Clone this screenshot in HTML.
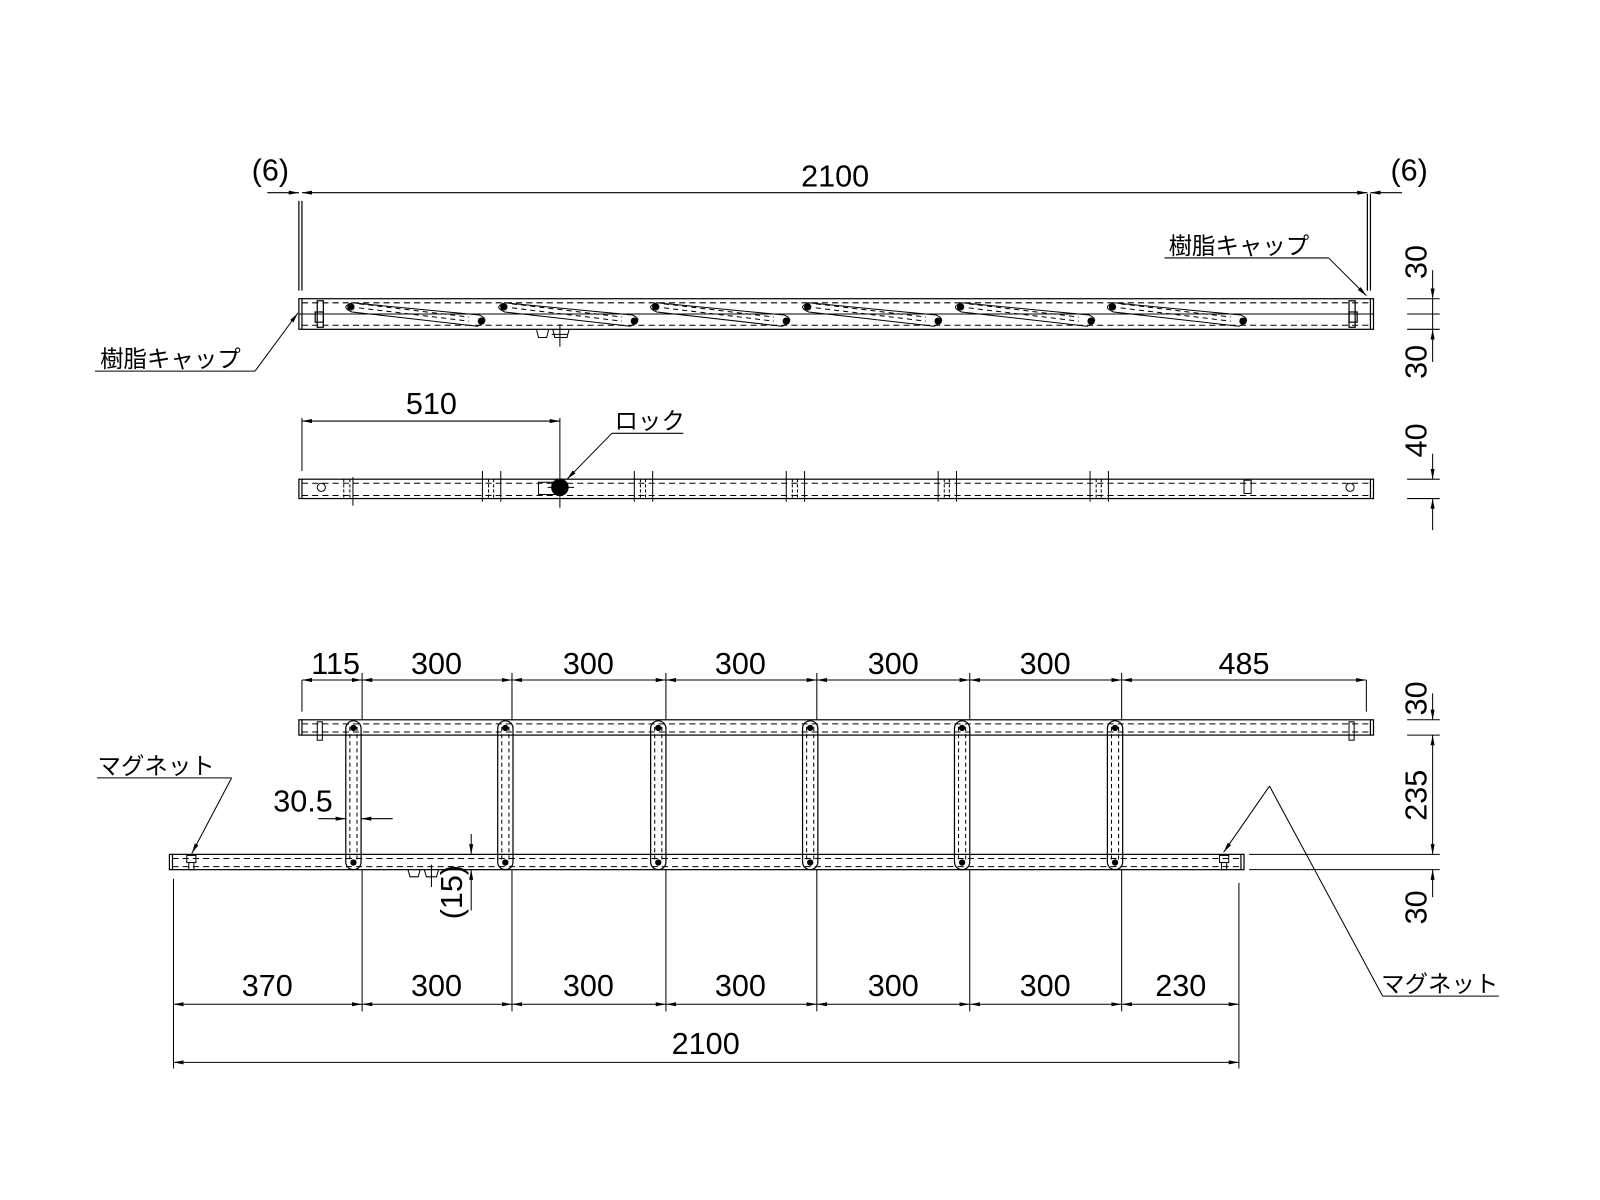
<!DOCTYPE html>
<html><head><meta charset="utf-8"><style>html,body{margin:0;padding:0;background:#fff}svg{display:block}
text{font-family:"Liberation Sans","Noto Sans CJK JP",sans-serif;fill:#000}</style></head><body>
<svg width="1600" height="1200" viewBox="0 0 1569 1177" xmlns="http://www.w3.org/2000/svg">
<defs>
<marker id="a" viewBox="0 0 10 4" refX="10" refY="2" markerWidth="10" markerHeight="4" orient="auto-start-reverse" markerUnits="userSpaceOnUse"><path d="M0,0 L10,2 L0,4Z" fill="#000"/></marker>
</defs>
<g stroke="#000" fill="none" stroke-width="1.2">
<rect x="293" y="293" width="1054" height="30"/>
<line x1="293" y1="308" x2="1347" y2="308" stroke-width="1"/>
<line x1="296" y1="297" x2="1344" y2="297" stroke-dasharray="6,4" stroke-width="1"/>
<line x1="296" y1="319" x2="1344" y2="319" stroke-dasharray="6,4" stroke-width="1"/>
<line x1="296" y1="293" x2="296" y2="323"/>
<line x1="1344" y1="293" x2="1344" y2="323"/>
<rect x="311" y="295" width="6" height="26"/><rect x="309" y="306" width="8" height="10"/>
<rect x="1323" y="295" width="6" height="26"/><rect x="1323" y="306" width="8" height="10"/>
<g id="sl">
<path d="M345,297 Q333,301 345,306 L468,320 Q482,314 470,309 Z" stroke-width="1"/>
<line x1="352" y1="302" x2="460" y2="315" stroke-dasharray="5,4" stroke-width="1"/>
<line x1="352" y1="298" x2="460" y2="311" stroke-dasharray="5,4" stroke-width="1"/>
<circle cx="344" cy="301" r="3" fill="#000"/><circle cx="472" cy="315" r="3" fill="#000"/>
</g>
<use href="#sl" x="150"/><use href="#sl" x="299"/><use href="#sl" x="448"/><use href="#sl" x="598"/><use href="#sl" x="747"/>
<path d="M526,323 L528,331 L536,331 L538,323 M542,323 L544,331 L556,331 L558,323 M549,318 L549,340 M541,328 L557,328" stroke-width="1"/>
<line x1="296" y1="197" x2="296" y2="285"/><line x1="293" y1="197" x2="293" y2="285"/>
<line x1="1344" y1="190" x2="1344" y2="285"/><line x1="1341" y1="190" x2="1341" y2="285"/>
<line x1="296" y1="189" x2="1341" y2="189" marker-start="url(#a)" marker-end="url(#a)" stroke-width="1"/>
<line x1="262" y1="189" x2="293" y2="189" marker-end="url(#a)" stroke-width="1"/>
<line x1="1375" y1="189" x2="1344" y2="189" marker-end="url(#a)" stroke-width="1"/>
<line x1="1380" y1="293" x2="1412" y2="293" stroke-width="1"/>
<line x1="1380" y1="308" x2="1412" y2="308" stroke-width="1"/>
<line x1="1380" y1="323" x2="1412" y2="323" stroke-width="1"/>
<line x1="1405" y1="265" x2="1405" y2="293" marker-end="url(#a)" stroke-width="1"/>
<line x1="1405" y1="293" x2="1405" y2="323" stroke-width="1"/>
<line x1="1405" y1="355" x2="1405" y2="323" marker-end="url(#a)" stroke-width="1"/>
<polyline points="1142,253 1303,253" stroke-width="1"/>
<line x1="1303" y1="253" x2="1340" y2="290" marker-end="url(#a)" stroke-width="1"/>
<polyline points="93,364 250,364" stroke-width="1"/>
<line x1="250" y1="364" x2="292" y2="307" marker-end="url(#a)" stroke-width="1"/>

<rect x="293" y="470" width="1054" height="19"/>
<line x1="296" y1="474" x2="1344" y2="474" stroke-dasharray="6,4" stroke-width="1"/>
<line x1="296" y1="486" x2="1344" y2="486" stroke-dasharray="6,4" stroke-width="1"/>
<line x1="296" y1="470" x2="296" y2="489"/><line x1="1344" y1="470" x2="1344" y2="489"/>
<circle cx="315" cy="478" r="4" stroke-width="1"/><circle cx="1324" cy="478" r="4" stroke-width="1"/>
<g stroke-width="1">
<line x1="346" y1="468" x2="346" y2="496"/><line x1="337" y1="470" x2="337" y2="489" stroke-dasharray="3,2"/><line x1="343" y1="470" x2="343" y2="489" stroke-dasharray="3,2"/>
<line x1="473" y1="462" x2="473" y2="492"/><line x1="491" y1="462" x2="491" y2="492"/><line x1="479" y1="470" x2="479" y2="489" stroke-dasharray="3,2"/><line x1="484" y1="470" x2="484" y2="489" stroke-dasharray="3,2"/>
<line x1="622" y1="462" x2="622" y2="492"/><line x1="640" y1="462" x2="640" y2="492"/><line x1="628" y1="470" x2="628" y2="489" stroke-dasharray="3,2"/><line x1="633" y1="470" x2="633" y2="489" stroke-dasharray="3,2"/>
<line x1="771" y1="462" x2="771" y2="492"/><line x1="789" y1="462" x2="789" y2="492"/><line x1="777" y1="470" x2="777" y2="489" stroke-dasharray="3,2"/><line x1="782" y1="470" x2="782" y2="489" stroke-dasharray="3,2"/>
<line x1="920" y1="462" x2="920" y2="492"/><line x1="938" y1="462" x2="938" y2="492"/><line x1="926" y1="470" x2="926" y2="489" stroke-dasharray="3,2"/><line x1="931" y1="470" x2="931" y2="489" stroke-dasharray="3,2"/>
<line x1="1069" y1="462" x2="1069" y2="492"/><line x1="1087" y1="462" x2="1087" y2="492"/><line x1="1075" y1="470" x2="1075" y2="489" stroke-dasharray="3,2"/><line x1="1080" y1="470" x2="1080" y2="489" stroke-dasharray="3,2"/>
<rect x="1220" y="471" width="7" height="13"/>
<rect x="528" y="473" width="20" height="12"/>
<line x1="537" y1="478" x2="563" y2="478"/>
</g>
<circle cx="549" cy="478" r="8" fill="#000"/>
<line x1="549" y1="410" x2="549" y2="498" stroke-width="1"/>
<line x1="296" y1="410" x2="296" y2="462" stroke-width="1"/>
<line x1="296" y1="413" x2="549" y2="413" marker-start="url(#a)" marker-end="url(#a)" stroke-width="1"/>
<polyline points="670,425 600,425" stroke-width="1"/>
<line x1="600" y1="425" x2="556" y2="470" marker-end="url(#a)" stroke-width="1"/>
<line x1="1380" y1="470" x2="1412" y2="470" stroke-width="1"/>
<line x1="1380" y1="489" x2="1412" y2="489" stroke-width="1"/>
<line x1="1405" y1="445" x2="1405" y2="470" marker-end="url(#a)" stroke-width="1"/>
<line x1="1405" y1="520" x2="1405" y2="489" marker-end="url(#a)" stroke-width="1"/>

<rect x="293" y="706" width="1054" height="15"/>
<line x1="296" y1="710" x2="1344" y2="710" stroke-dasharray="6,4" stroke-width="1"/>
<line x1="296" y1="718" x2="1344" y2="718" stroke-dasharray="6,4" stroke-width="1"/>
<line x1="296" y1="706" x2="296" y2="721"/><line x1="1344" y1="706" x2="1344" y2="721"/>
<rect x="311" y="708" width="5" height="18" stroke-width="1"/><rect x="1323" y="708" width="5" height="18" stroke-width="1"/>
<rect x="166" y="838" width="1054" height="15"/>
<line x1="169" y1="842" x2="1217" y2="842" stroke-dasharray="6,4" stroke-width="1"/>
<line x1="169" y1="850" x2="1217" y2="850" stroke-dasharray="6,4" stroke-width="1"/>
<line x1="169" y1="838" x2="169" y2="853"/><line x1="1217" y1="838" x2="1217" y2="853"/>
<rect x="183" y="839" width="9" height="7" stroke-width="1"/><rect x="185" y="846" width="5" height="7" stroke-width="1"/>
<rect x="1196" y="839" width="9" height="7" stroke-width="1"/><rect x="1198" y="846" width="5" height="7" stroke-width="1"/>
<path d="M400,853 L402,860 L410,860 L412,853 M416,853 L418,860 L428,860 L430,853 M423,848 L423,870" stroke-width="1"/>
<g id="rg">
<rect x="339" y="707" width="15" height="146" rx="7.5" stroke-width="1.2"/>
<line x1="343" y1="713" x2="343" y2="846" stroke-dasharray="4,3" stroke-width="1"/>
<line x1="350" y1="713" x2="350" y2="846" stroke-dasharray="4,3" stroke-width="1"/>
<circle cx="346.5" cy="714" r="2.5" fill="#000"/><circle cx="346.5" cy="846" r="2.5" fill="#000"/>
</g>
<use href="#rg" x="149"/><use href="#rg" x="299"/><use href="#rg" x="448"/><use href="#rg" x="597"/><use href="#rg" x="747"/>
<g stroke-width="1">
<line x1="296" y1="667" x2="296" y2="698"/><line x1="355" y1="660" x2="355" y2="706"/>
<line x1="502" y1="660" x2="502" y2="706"/><line x1="653" y1="660" x2="653" y2="706"/>
<line x1="801" y1="660" x2="801" y2="706"/><line x1="951" y1="660" x2="951" y2="706"/>
<line x1="1100" y1="660" x2="1100" y2="706"/><line x1="1340" y1="667" x2="1340" y2="698"/>
<line x1="296" y1="667" x2="355" y2="667" marker-start="url(#a)" marker-end="url(#a)"/>
<line x1="355" y1="667" x2="502" y2="667" marker-start="url(#a)" marker-end="url(#a)"/>
<line x1="502" y1="667" x2="653" y2="667" marker-start="url(#a)" marker-end="url(#a)"/>
<line x1="653" y1="667" x2="801" y2="667" marker-start="url(#a)" marker-end="url(#a)"/>
<line x1="801" y1="667" x2="951" y2="667" marker-start="url(#a)" marker-end="url(#a)"/>
<line x1="951" y1="667" x2="1100" y2="667" marker-start="url(#a)" marker-end="url(#a)"/>
<line x1="1100" y1="667" x2="1340" y2="667" marker-start="url(#a)" marker-end="url(#a)"/>
<line x1="170" y1="862" x2="170" y2="1048"/><line x1="355" y1="853" x2="355" y2="992"/>
<line x1="502" y1="853" x2="502" y2="992"/><line x1="653" y1="853" x2="653" y2="992"/>
<line x1="801" y1="853" x2="801" y2="992"/><line x1="951" y1="853" x2="951" y2="992"/>
<line x1="1100" y1="853" x2="1100" y2="992"/><line x1="1215" y1="866" x2="1215" y2="1048"/>
<line x1="170" y1="985" x2="355" y2="985" marker-start="url(#a)" marker-end="url(#a)"/>
<line x1="355" y1="985" x2="502" y2="985" marker-start="url(#a)" marker-end="url(#a)"/>
<line x1="502" y1="985" x2="653" y2="985" marker-start="url(#a)" marker-end="url(#a)"/>
<line x1="653" y1="985" x2="801" y2="985" marker-start="url(#a)" marker-end="url(#a)"/>
<line x1="801" y1="985" x2="951" y2="985" marker-start="url(#a)" marker-end="url(#a)"/>
<line x1="951" y1="985" x2="1100" y2="985" marker-start="url(#a)" marker-end="url(#a)"/>
<line x1="1100" y1="985" x2="1215" y2="985" marker-start="url(#a)" marker-end="url(#a)"/>
<line x1="170" y1="1042" x2="1215" y2="1042" marker-start="url(#a)" marker-end="url(#a)"/>
<line x1="1380" y1="706" x2="1412" y2="706"/><line x1="1380" y1="721" x2="1412" y2="721"/>
<line x1="1225" y1="838" x2="1412" y2="838"/><line x1="1225" y1="853" x2="1412" y2="853"/>
<line x1="1405" y1="680" x2="1405" y2="706" marker-end="url(#a)"/>
<line x1="1405" y1="721" x2="1405" y2="838" marker-start="url(#a)" marker-end="url(#a)"/>
<line x1="1405" y1="880" x2="1405" y2="853" marker-end="url(#a)"/>
<line x1="312" y1="803" x2="339" y2="803" marker-end="url(#a)"/>
<line x1="385" y1="803" x2="354" y2="803" marker-end="url(#a)"/>
<line x1="462" y1="818" x2="462" y2="838" marker-end="url(#a)"/>
<line x1="462" y1="893" x2="462" y2="853" marker-end="url(#a)"/>
<line x1="440" y1="853" x2="470" y2="853"/>
<line x1="95" y1="763" x2="227" y2="763"/>
<line x1="227" y1="763" x2="188" y2="837" marker-end="url(#a)"/>
<line x1="1245" y1="771" x2="1200" y2="836" marker-end="url(#a)"/>
<line x1="1245" y1="771" x2="1356" y2="977"/>
<line x1="1356" y1="977" x2="1470" y2="977"/>
</g>
</g>
<g font-size="30" text-anchor="middle">
<text x="265" y="177">(6)</text><text x="1382" y="177">(6)</text>
<text x="819" y="183">2100</text>
<text x="423" y="406">510</text>
<text x="329" y="661">115</text><text x="428" y="661">300</text><text x="577" y="661">300</text><text x="726" y="661">300</text><text x="876" y="661">300</text><text x="1025" y="661">300</text><text x="1220" y="661">485</text>
<text x="262" y="977">370</text><text x="428" y="977">300</text><text x="577" y="977">300</text><text x="726" y="977">300</text><text x="876" y="977">300</text><text x="1025" y="977">300</text><text x="1158" y="977">230</text>
<text x="692" y="1034">2100</text>
<text x="297" y="796">30.5</text>
<text transform="translate(1399,257) rotate(-90)">30</text>
<text transform="translate(1399,355) rotate(-90)">30</text>
<text transform="translate(1399,432) rotate(-90)">40</text>
<text transform="translate(1399,685) rotate(-90)">30</text>
<text transform="translate(1399,780) rotate(-90)">235</text>
<text transform="translate(1399,890) rotate(-90)">30</text>
<text transform="translate(453,875) rotate(-90)">(15)</text>
</g>
<g font-size="23" text-anchor="middle">
<text x="1215" y="249">樹脂キャップ</text>
<text x="167" y="360">樹脂キャップ</text>
<text x="637" y="421">ロック</text>
<text x="153" y="759">マグネット</text>
<text x="1412" y="973">マグネット</text>
</g>
</svg>
</body></html>
